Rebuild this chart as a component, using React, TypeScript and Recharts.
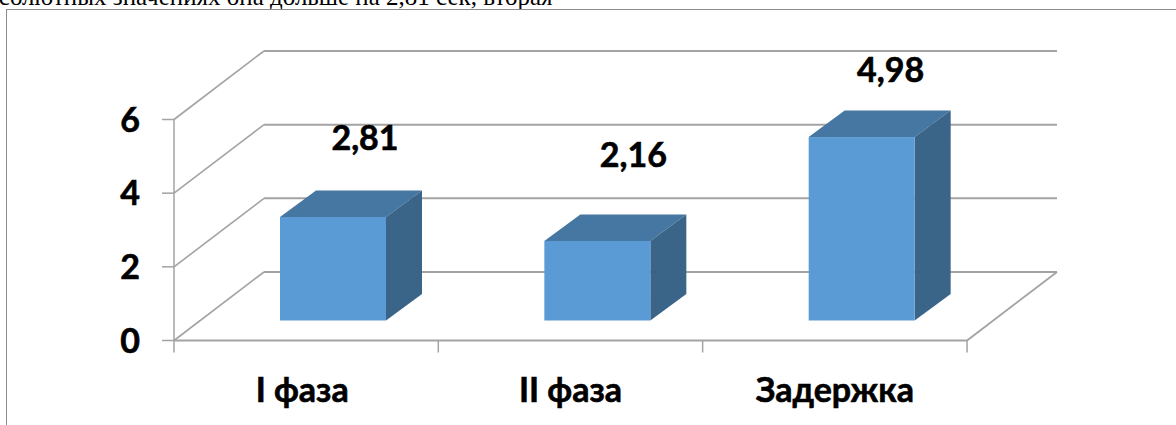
import { BarChart, Bar, XAxis, YAxis, CartesianGrid, LabelList } from "recharts"

const CATEGORIES = ["I фаза", "II фаза", "Задержка"]
const VALUES = [2.81, 2.16, 4.98]
const Y_TICKS = [0, 2, 4, 6]

const data = CATEGORIES.map((name, i) => ({ name, value: VALUES[i] }))

const FONT = "Lato, 'Open Sans', sans-serif"
const GRID = "#a3a3a3"
// 3d look: how far the back wall sits from the front plane
const WALL_DX = 90
const WALL_DY = -68.5
// bars stand in the middle of the floor, and have their own depth
const BAR_DX = 27
const BAR_DY = -20
const DEPTH_X = 36
const DEPTH_Y = -26.5
const BAND = 264.4
// the labels float off the bars in the original, each by its own amount
const LABEL_NUDGE = [
  [32, -79],
  [36, -86],
  [29, -67],
]
const CATEGORY_NUDGE = [-4, 0, 0]

function Box(props: any) {
  const { x, y, width, height } = props
  const l = x + BAR_DX
  const t = y + BAR_DY
  const r = l + width
  const b = t + height
  return (
    <g>
      <polygon
        points={`${l},${t} ${l + DEPTH_X},${t + DEPTH_Y} ${r + DEPTH_X},${t + DEPTH_Y} ${r},${t}`}
        fill="#4676a2"
      />
      <polygon
        points={`${r},${t} ${r + DEPTH_X},${t + DEPTH_Y} ${r + DEPTH_X},${b + DEPTH_Y} ${r},${b}`}
        fill="#3b6588"
      />
      <rect x={l} y={t} width={width} height={height} fill="#5b9bd5" />
    </g>
  )
}

function GridLine(props: any) {
  const { x1, x2, y1 } = props
  const isFloor = y1 > 330
  const backY = y1 + WALL_DY
  return (
    <g fill="none" stroke={GRID}>
      <line x1={x1} y1={y1} x2={x1 + WALL_DX} y2={backY} strokeWidth={1.6} />
      <line x1={x1 + WALL_DX} y1={backY} x2={x2 + WALL_DX} y2={backY} strokeWidth={2} />
      {isFloor && (
        <polyline points={`${x1},${y1} ${x2},${y1} ${x2 + WALL_DX},${backY}`} strokeWidth={1.8} />
      )}
    </g>
  )
}

function CategoryTick(props: any) {
  const { x, y, payload, index } = props
  return (
    <g>
      <line x1={x - BAND / 2} x2={x - BAND / 2} y1={y - 8} y2={y + 4} stroke={GRID} strokeWidth={1.5} />
      {index === CATEGORIES.length - 1 && (
        <line x1={x + BAND / 2} x2={x + BAND / 2} y1={y - 8} y2={y + 4} stroke={GRID} strokeWidth={1.5} />
      )}
      <text
        x={x + CATEGORY_NUDGE[index]}
        y={y + 53}
        textAnchor="middle"
        fontFamily={FONT}
        fontWeight={700}
        fontSize={34}
        fill="#000"
        stroke="#000"
        strokeWidth={0.6}
      >
        {payload.value}
      </text>
    </g>
  )
}

function ValueLabel(props: any) {
  const { x, y, width, value, index } = props
  const [dx, dy] = LABEL_NUDGE[index]
  return (
    <text
      x={x + width / 2 + BAR_DX + dx}
      y={y + BAR_DY + dy + 12}
      textAnchor="middle"
      fontFamily={FONT}
      fontWeight={700}
      fontSize={34}
      fill="#000"
      stroke="#000"
      strokeWidth={0.6}
    >
      {value.toFixed(2).replace(".", ",")}
    </text>
  )
}

export default function App() {
  return (
    <div
      style={{
        position: "absolute",
        left: 0,
        top: 0,
        width: 1176,
        height: 425,
        overflow: "hidden",
        background: "#fff",
      }}
    >
      <div
        style={{
          position: "absolute",
          left: -25,
          top: -17,
          whiteSpace: "nowrap",
          fontFamily: "'Liberation Serif', serif",
          fontSize: 25,
          color: "#000",
        }}
      >
        абсолютных значениях она дольше на 2,81 сек, вторая
      </div>
      <div
        style={{
          position: "absolute",
          left: 6,
          top: 9,
          width: 1176,
          height: 425,
          borderLeft: "1.5px solid #8c8c8c",
          borderTop: "1.5px solid #8c8c8c",
          background: "#fff",
        }}
      />
      <div style={{ position: "absolute", left: 0, top: 0 }}>
        <BarChart
          width={1176}
          height={425}
          data={data}
          barSize={106}
          margin={{ top: 119.5, right: 209, bottom: 44.5, left: 0 }}
        >
          <CartesianGrid vertical={false} horizontal={GridLine} />
          <XAxis
            dataKey="name"
            height={40}
            axisLine={false}
            tickLine={false}
            interval={0}
            tick={CategoryTick}
          />
          <YAxis
            width={174}
            domain={[0, 6]}
            ticks={Y_TICKS}
            interval={0}
            axisLine={{ stroke: GRID, strokeWidth: 1.5 }}
            tickLine={{ stroke: GRID, strokeWidth: 1.5 }}
            tickSize={12}
            tickMargin={22}
            tick={{ fontFamily: FONT, fontWeight: 700, fontSize: 34, fill: "#000", stroke: "#000", strokeWidth: 0.6 }}
          />
          <Bar dataKey="value" shape={Box} isAnimationActive={false}>
            <LabelList dataKey="value" content={ValueLabel} />
          </Bar>
        </BarChart>
      </div>
    </div>
  )
}
